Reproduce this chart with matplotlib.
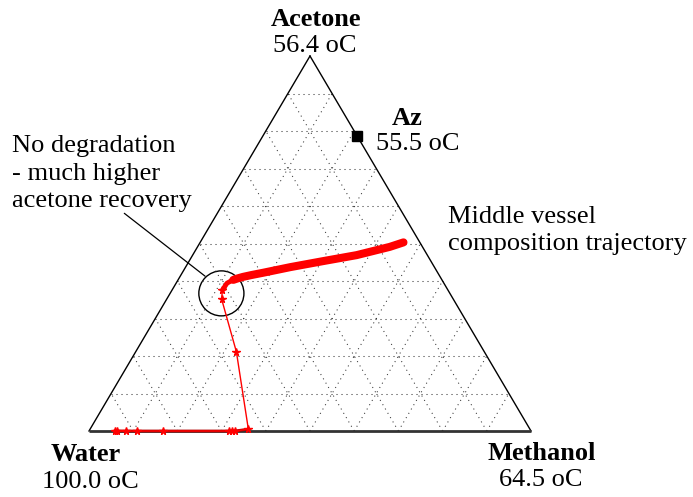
import numpy as np
import matplotlib.pyplot as plt
from matplotlib.patches import Ellipse

plt.rcParams['font.family'] = ['Liberation Serif', 'DejaVu Serif']

W, H = 693, 497

# Вершины треугольника и температуры кипения
vertex_names = ["Water", "Methanol", "Acetone"]
vertex_temps = ["100.0 oC", "64.5 oC", "56.4 oC"]

# Азеотроп ацетон-метанол (мольные доли)
az_methanol = [0.213]
az_acetone = [0.787]
az_label = "Az"
az_temp = "55.5 oC"

# Траектория состава средней ёмкости: редкие точки (тонкая линия)
traj_methanol = [0.059, 0.063, 0.083, 0.108, 0.167, 0.317, 0.323, 0.330, 0.358, 0.228, 0.124, 0.114]
traj_acetone = [0.0, 0.0, 0.0, 0.0, 0.0, 0.0, 0.0, 0.0, 0.005, 0.211, 0.352, 0.376]

# Плотная часть траектории (толстая линия)
dense_methanol = [0.114, 0.115, 0.120, 0.125, 0.133, 0.143, 0.160, 0.183, 0.237, 0.303, 0.371, 0.435, 0.460]
dense_acetone = [0.376, 0.394, 0.399, 0.403, 0.407, 0.411, 0.416, 0.422, 0.437, 0.453, 0.469, 0.491, 0.503]


def tern(xm, xa):
    xm = np.asarray(xm, float)
    xa = np.asarray(xa, float)
    return xm + xa / 2, xa


def px(x, y):
    return x / W, 1 - y / H


fig = plt.figure(figsize=(W / 100, H / 100), dpi=100)
ax = fig.add_axes([89 / W, (H - 431) / H, 442 / W, 375 / H])
ax.set_xlim(0, 1)
ax.set_ylim(0, 1)
ax.axis('off')

# сетка
for i in range(1, 10):
    f = i / 10
    for a, b in [((0, f), (1 - f, f)),           # ацетон = const
                 ((f, 0), (f, 1 - f)),           # метанол = const
                 ((1 - f, 0), (0, 1 - f))]:      # вода = const
        x, y = tern([a[0], b[0]], [a[1], b[1]])
        ax.plot(x, y, color='#333333', lw=0.75, ls=(0, (1, 3.8)), clip_on=False)

# стороны треугольника
x, y = tern([0, 0, 1], [0, 1, 0])
ax.plot(x[:2], y[:2], color='black', lw=1.0, clip_on=False)
ax.plot(x[1:], y[1:], color='black', lw=1.0, clip_on=False)
ax.plot([0, 1], [0, 0], color='#333333', lw=2.0, clip_on=False, solid_capstyle='butt')

# траектория
x, y = tern(traj_methanol, traj_acetone)
ax.plot(x[:9], y[:9], color='#b00000', lw=2.0, clip_on=False, zorder=3)
ax.plot(x, y, color='red', lw=1.0, marker='*', ms=5.5, mec='red', clip_on=False, zorder=4)
xd, yd = tern(dense_methanol, dense_acetone)
ax.plot(xd[:4], yd[:4], color='red', lw=3.5, solid_capstyle='round', zorder=4)
ax.plot(xd[3:], yd[3:], color='red', lw=5.8, solid_capstyle='round', solid_joinstyle='round', zorder=4)

# азеотроп
x, y = tern(az_methanol, az_acetone)
ax.plot(x, y, 's', color='black', ms=6.5, clip_on=False, zorder=5)

# круг и выноска
cx, cy = tern(0.116, 0.367)
ax.add_patch(Ellipse((cx, cy), 0.102, 0.12, fill=False, ec='black', lw=1.0))
ax.annotate('', xy=(0.2627, 0.4128), xytext=(0.0799, 0.5805),
            arrowprops=dict(arrowstyle='-', lw=0.9, color='black', shrinkA=0, shrinkB=0))

fs = 19
# подписи вершин
fig.text(*px(86, 461), vertex_names[0], fontsize=fs, fontweight='bold', ha='center', va='baseline')
fig.text(*px(90, 488), vertex_temps[0], fontsize=fs, ha='center', va='baseline')
fig.text(*px(542, 460), vertex_names[1], fontsize=fs, fontweight='bold', ha='center', va='baseline')
fig.text(*px(541, 486), vertex_temps[1], fontsize=fs, ha='center', va='baseline')
fig.text(*px(316, 26), vertex_names[2], fontsize=fs, fontweight='bold', ha='center', va='baseline')
fig.text(*px(315, 52), vertex_temps[2], fontsize=fs, ha='center', va='baseline')
fig.text(*px(392, 125), az_label, fontsize=fs, fontweight='bold', ha='left', va='baseline')
fig.text(*px(376, 150), az_temp, fontsize=fs, ha='left', va='baseline')

# пояснения
for yy, s in zip([152, 180, 207], ["No degradation", "- much higher", "acetone recovery"]):
    fig.text(*px(12, yy), s, fontsize=fs, ha='left', va='baseline')
for yy, s in zip([223, 250], ["Middle vessel", "composition trajectory"]):
    fig.text(*px(448, yy), s, fontsize=fs, ha='left', va='baseline')

fig.savefig('out.png', dpi=100)
